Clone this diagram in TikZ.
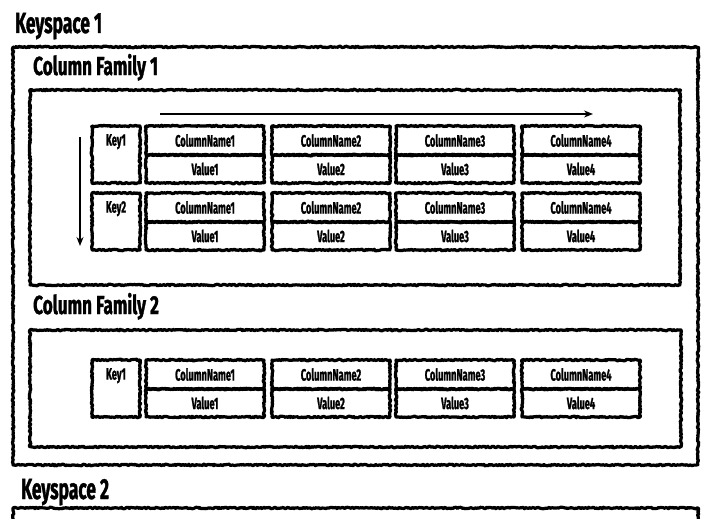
\documentclass[tikz,border=0pt]{standalone}
\usepackage{fontspec}
\setmainfont{Fira Sans}
\newfontfamily\condfont[FakeStretch=0.6,
  BoldFeatures={FakeBold=1.2}]{Fira Sans}
\newfontfamily\cellfont[FakeStretch=0.56,
  BoldFeatures={FakeBold=1.2}]{Fira Sans}
\newfontfamily\cfontwide[FakeStretch=0.66,
  BoldFeatures={FakeBold=1.2}]{Fira Sans}
\usetikzlibrary{decorations.pathmorphing,arrows.meta}
\begin{document}
\begin{tikzpicture}[x=1pt,y=-1pt,
  sketchbox/.style={draw, line width=3.2pt, line join=round, inner sep=0pt, outer sep=0pt,
    anchor=north west, decorate,
    decoration={random steps, segment length=1.2pt, amplitude=0.75pt}},
  keybox/.style={sketchbox, minimum width=48pt, minimum height=57pt},
  namebox/.style={sketchbox, minimum width=118pt, minimum height=29pt,
    font=\cellfont\bfseries\fontsize{16.5}{16.5}\selectfont},
  valbox/.style={namebox, minimum height=28pt},
  keylabel/.style={anchor=north, inner sep=0pt, font=\cellfont\bfseries\fontsize{16.5}{16.5}\selectfont},
  bigtitle/.style={anchor=base west, inner sep=0pt, font=\condfont\bfseries\fontsize{29}{29}\selectfont},
  midtitle/.style={anchor=base west, inner sep=0pt, font=\cfontwide\bfseries\fontsize{26}{26}\selectfont},
  flow/.style={line width=1.4pt, -{Stealth[length=9pt,width=7pt]}}]
\pgfmathsetseed{7}
\useasboundingbox (0,0) rectangle (712,519);
\clip (0,0) rectangle (712,519);

% keyspaces and column families
\node[bigtitle] (ks1title) at (15,33) {Keyspace 1};
\node[sketchbox, minimum width=685pt, minimum height=418pt] (ks1) at (13,47) {};
\node[midtitle] (cf1title) at (33,75) {Column Family 1};
\node[sketchbox, minimum width=650pt, minimum height=195pt] (cf1) at (30,90) {};
\node[midtitle] (cf2title) at (33,314) {Column Family 2};
\node[sketchbox, minimum width=651pt, minimum height=117pt] (cf2) at (30,330) {};
\node[bigtitle] (ks2title) at (21,499) {Keyspace 2};
\node[sketchbox, minimum width=685pt, minimum height=60pt] (ks2) at (13,508) {};

% rows of column family 1
\node[keybox] (k1) at (92,126) {};
\node[keylabel] (k1lab) at ([yshift=-8pt]k1.north) {Key1};
\node[keybox] (k2) at (92,193) {};
\node[keylabel] (k2lab) at ([yshift=-8pt]k2.north) {Key2};
% row of column family 2
\node[keybox] (k3) at (92,360) {};
\node[keylabel] (k3lab) at ([yshift=-8pt]k3.north) {Key1};

\foreach \r/\y in {a/126, b/193, c/360}{
  \foreach \i/\x in {1/146, 2/272, 3/396, 4/522}{
    \node[namebox] (n\r\i) at (\x,\y) {ColumnName\i};
    \node[valbox] (v\r\i) at (\x,\y+29) {Value\i};
  }
}

% ordering arrows
\coordinate (hs) at (160,114);
\coordinate (he) at (593,114);
\coordinate (vs) at (80,137);
\coordinate (ve) at (80,246);
\draw[flow] (hs) -- (he);
\draw[flow] (vs) -- (ve);
\end{tikzpicture}
\end{document}
